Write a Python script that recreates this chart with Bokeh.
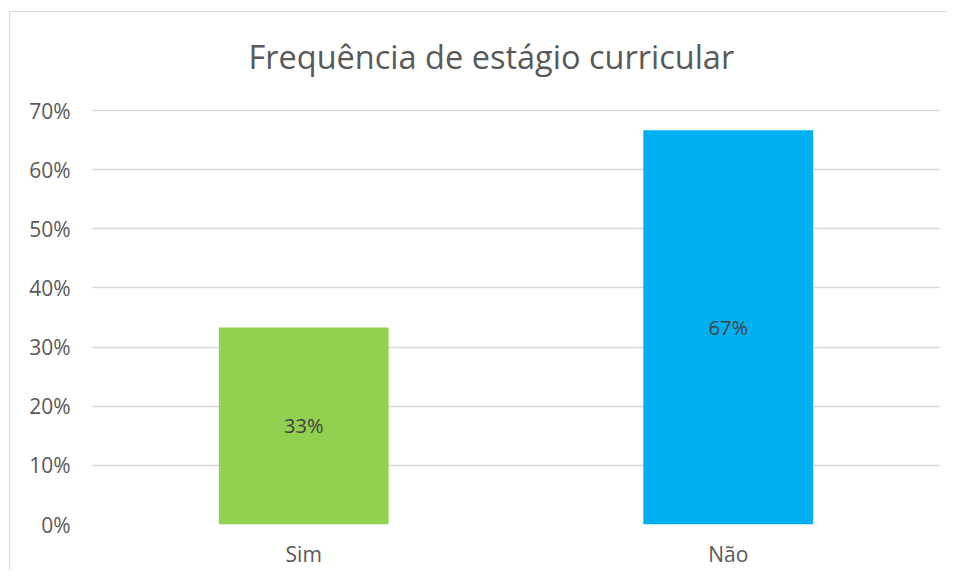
from bokeh.plotting import figure
from bokeh.models import Range1d, FixedTicker, NumeralTickFormatter, ColumnDataSource, Title
from bokeh.core.properties import value
from bokeh.embed import file_html
from bokeh.resources import INLINE

categories = ["Sim", "Não"]
shares = [0.3333, 0.6667]
colors = ["#92D050", "#00B0F0"]
y_ticks = [0.0, 0.1, 0.2, 0.3, 0.4, 0.5, 0.6, 0.7]
title_text = "Frequência de estágio curricular"

src = ColumnDataSource(dict(
    cat=categories,
    val=shares,
    color=colors,
    mid=[v / 2 for v in shares],
    lab=[f"{round(v * 100)}%" for v in shares],
))

p = figure(x_range=categories, y_range=Range1d(0, 0.7017),
           width=947, height=570, output_backend="svg", toolbar_location=None,
           min_border_left=91, min_border_right=7, min_border_top=109, min_border_bottom=45,
           background_fill_color="white", border_fill_color="white", border_fill_alpha=0)
# light chart-area border (left and top edges visible), painted behind the transparent canvas border
p.styles = {"background": "linear-gradient(#d9d9d9, #d9d9d9) 9px 11px / 1px 100% no-repeat, "
                          "linear-gradient(#d9d9d9, #d9d9d9) 9px 11px / 100% 1px no-repeat, white"}
p.outline_line_color = None

t = Title(text=title_text, text_font="Open Sans", text_font_size="32.5px", text_font_style="normal",
          text_color="#595959", align="left", offset=157, standoff=61)
p.add_layout(t, "above")

p.vbar(x="cat", top="val", width=0.4, fill_color="color", line_color=None, source=src)
p.text(x="cat", y="mid", text="lab", source=src, text_align="center", text_baseline="middle",
       text_font=value("Open Sans"), text_font_size="20px", text_color="#404040")

p.yaxis.ticker = FixedTicker(ticks=y_ticks)
p.yaxis.formatter = NumeralTickFormatter(format="0%")
for ax in (p.xaxis, p.yaxis):
    ax.axis_line_color = None
    ax.major_tick_line_color = None
    ax.minor_tick_line_color = None
    ax.major_tick_out = 0
    ax.major_tick_in = 0
    ax.major_label_text_font = "Open Sans"
    ax.major_label_text_font_size = "21px"
    ax.major_label_text_color = "#595959"
p.yaxis.major_label_standoff = 21
p.xaxis.major_label_standoff = 15

p.xgrid.grid_line_color = None
p.ygrid.grid_line_color = "#d9d9d9"
p.ygrid.grid_line_width = 1.5

open("out.html", "w").write(file_html(p, INLINE))
